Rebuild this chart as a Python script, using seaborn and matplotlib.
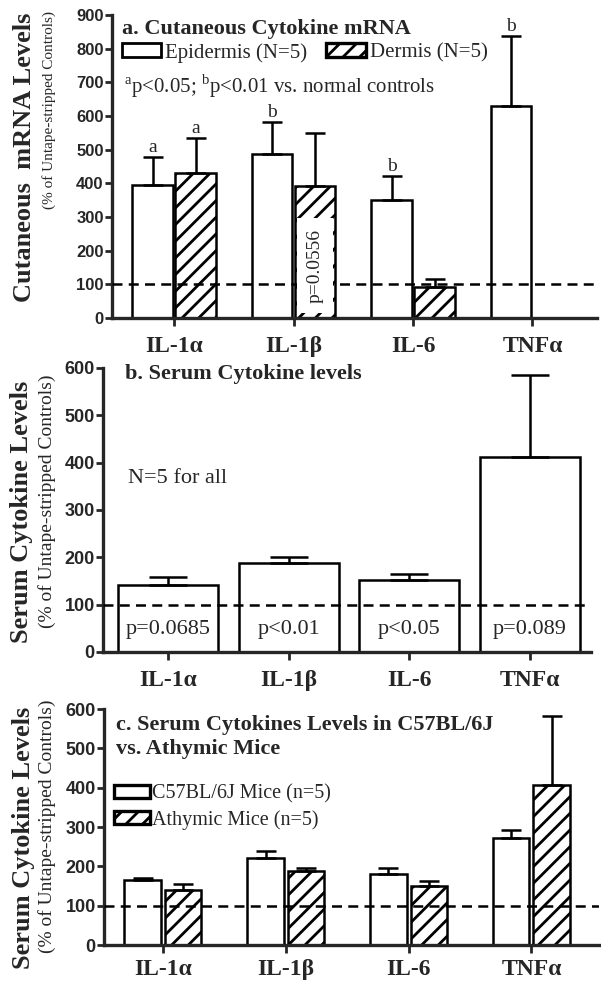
import numpy as np
import pandas as pd
import matplotlib
matplotlib.use('Agg')
import matplotlib.pyplot as plt
import seaborn as sns
from matplotlib.patches import Patch, Rectangle

# 데이터
cytokines = ['IL-1α', 'IL-1β', 'IL-6', 'TNFα']

# a. Cutaneous mRNA (% of controls)
epidermis_mean = [395, 487, 350, 630]
epidermis_err = [83, 96, 71, 207]
dermis_mean = [430, 391, 92, np.nan]
dermis_err = [104, 158, 24, np.nan]
epidermis_marks = ['a', 'b', 'b', 'b']
dermis_marks = ['a', '', '', '']

# b. Serum levels
serum_mean = [141, 189, 152, 412]
serum_err = [17, 11, 13, 174]
serum_p = ['p=0.0685', 'p<0.01', 'p<0.05', 'p=0.089']

# c. C57BL/6J vs athymic
c57_mean = [165, 221, 181, 273]
c57_err = [5, 17, 16, 20]
athymic_mean = [139, 188, 150, 408]
athymic_err = [16, 8, 12, 175]

sns.set_style('ticks')
plt.rcParams['font.family'] = ['Liberation Serif', 'DejaVu Serif']
plt.rcParams['mathtext.fontset'] = 'custom'
plt.rcParams['mathtext.rm'] = 'Liberation Serif'
plt.rcParams['hatch.linewidth'] = 2.0

SANS = 'Liberation Sans'
W, H = 601, 988


def make_axes(fig, left, right, top, bottom):
    return fig.add_axes([left / W, 1 - bottom / H, (right - left) / W, (bottom - top) / H])


def style_axes(ax, ymax, ystep, xlim, ysize=10, xsize=15, xpad=6):
    ax.set_ylim(0, ymax)
    ax.set_xlim(*xlim)
    ax.set_yticks(np.arange(0, ymax + 1, ystep))
    for s in ['top', 'right']:
        ax.spines[s].set_visible(False)
    for s in ['left', 'bottom']:
        ax.spines[s].set_linewidth(2.4)
    ax.tick_params(axis='y', length=5, width=2, labelsize=ysize, pad=1)
    ax.tick_params(axis='x', length=6, width=2, labelsize=xsize, pad=xpad)
    for lab in ax.get_yticklabels():
        lab.set_fontfamily(SANS)
        lab.set_fontweight('bold')
    for lab in ax.get_xticklabels():
        lab.set_fontweight('bold')
    ax.set_xlabel('')
    ax.set_ylabel('')
    ax.axhline(100, color='black', lw=1.8, ls=(0, (4, 2.5)), zorder=5)


def add_errors(ax, errs_by_container, capsize):
    for cont, errs in zip(ax.containers, errs_by_container):
        for p in cont.patches:
            h = p.get_height()
            if np.isnan(h) or h == 0:
                continue
            cx = p.get_x() + p.get_width() / 2
            i = int(round(cx))
            ax.errorbar(cx, h, yerr=[[0], [errs[i]]], fmt='none', ecolor='black',
                        elinewidth=1.8, capsize=capsize, capthick=1.8, zorder=3)


fig = plt.figure(figsize=(W / 100, H / 100), dpi=100)

# ---------- a ----------
ax = make_axes(fig, 112, 597, 15, 318)
df_a = pd.DataFrame({
    'cytokine': cytokines * 2,
    'group': ['Epidermis'] * 4 + ['Dermis'] * 4,
    'value': epidermis_mean + dermis_mean,
})
sns.barplot(data=df_a, x='cytokine', y='value', hue='group', order=cytokines,
            hue_order=['Epidermis', 'Dermis'], palette=['white', 'white'], saturation=1,
            edgecolor='black', linewidth=1.8, errorbar=None, width=0.72, gap=0.06,
            legend=False, ax=ax)
for p in ax.containers[1].patches:
    p.set_hatch('//')
add_errors(ax, [epidermis_err, dermis_err], capsize=7)
style_axes(ax, 900, 100, (-0.52, 3.54), ysize=12, xsize=17, xpad=7)

for cont, means, errs, marks in zip(ax.containers, [epidermis_mean, dermis_mean],
                                    [epidermis_err, dermis_err], [epidermis_marks, dermis_marks]):
    for p in cont.patches:
        cx = p.get_x() + p.get_width() / 2
        i = int(round(cx))
        if marks[i]:
            ax.text(cx, means[i] + errs[i] + 3, marks[i], ha='center', va='bottom', fontsize=14)

# p=0.0556 box inside the dermis IL-1b bar
pb = [p for p in ax.containers[1].patches if int(round(p.get_x() + p.get_width() / 2)) == 1][0]
ax.add_patch(Rectangle((pb.get_x() + 0.02, 15), pb.get_width() - 0.04, 283,
                       facecolor='white', edgecolor='none', zorder=5.5))
ax.text(pb.get_x() + pb.get_width() / 2, 155, 'p=0.0556', rotation=90, ha='center',
        va='center', fontsize=14, zorder=6)

ax.text(0.02, 0.955, 'a. Cutaneous Cytokine mRNA', transform=ax.transAxes, fontsize=16,
        fontweight='bold', va='center')
hand_a = [Patch(facecolor='white', edgecolor='black', lw=2, label='Epidermis (N=5)'),
          Patch(facecolor='white', edgecolor='black', lw=2.4, hatch='//', label='Dermis (N=5)')]
ax.legend(handles=hand_a, ncol=2, loc='center left', bbox_to_anchor=(0.02, 0.875),
          frameon=False, fontsize=15, handlelength=1.9, handleheight=0.65,
          handletextpad=0.2, columnspacing=0.9, borderpad=0, borderaxespad=0)
ax.text(0.025, 0.765, r'$^{\rm a}$p<0.05; $^{\rm b}$p<0.01 vs. normal controls',
        transform=ax.transAxes, fontsize=15, va='center')

fig.text(25 / W, 1 - 13 / H, 'Cutaneous  mRNA Levels', rotation=90, ha='center', va='top',
         fontsize=19, fontweight='bold')
fig.text(49 / W, 1 - 11 / H, '(% of Untape-stripped Controls)', rotation=90, ha='center',
         va='top', fontsize=11)

# ---------- b ----------
ax = make_axes(fig, 103, 591, 368, 652)
df_b = pd.DataFrame({'cytokine': cytokines, 'value': serum_mean})
sns.barplot(data=df_b, x='cytokine', y='value', order=cytokines, color='white',
            saturation=1, edgecolor='black', linewidth=1.8, errorbar=None, width=0.83, ax=ax)
add_errors(ax, [serum_err], capsize=14)
style_axes(ax, 600, 100, (-0.54, 3.51), ysize=13, xsize=17, xpad=7)
for i, t in enumerate(serum_p):
    ax.text(i, 48, t, ha='center', va='center', fontsize=16, zorder=6)
ax.text(-0.33, 367, 'N=5 for all', fontsize=16, va='center')
ax.text(0.045, 0.98, 'b. Serum Cytokine levels', transform=ax.transAxes, fontsize=16,
        fontweight='bold', va='center')
fig.text(22 / W, 1 - 512 / H, 'Serum Cytokine Levels', rotation=90, ha='center', va='center',
         fontsize=19, fontweight='bold')
fig.text(47 / W, 1 - 501 / H, '(% of Untape-stripped Controls)', rotation=90, ha='center',
         va='center', fontsize=14)

# ---------- c ----------
ax = make_axes(fig, 104, 599, 709, 945)
df_c = pd.DataFrame({
    'cytokine': cytokines * 2,
    'group': ['C57'] * 4 + ['Athymic'] * 4,
    'value': c57_mean + athymic_mean,
})
sns.barplot(data=df_c, x='cytokine', y='value', hue='group', order=cytokines,
            hue_order=['C57', 'Athymic'], palette=['white', 'white'], saturation=1,
            edgecolor='black', linewidth=1.8, errorbar=None, width=0.66, gap=0.1,
            legend=False, ax=ax)
for p in ax.containers[1].patches:
    p.set_hatch('//')
add_errors(ax, [c57_err, athymic_err], capsize=7)
style_axes(ax, 600, 100, (-0.48, 3.55), ysize=13, xsize=17, xpad=4)
ax.text(0.025, 0.975, 'c. Serum Cytokines Levels in C57BL/6J\nvs. Athymic Mice',
        transform=ax.transAxes, fontsize=16, fontweight='bold', va='top', linespacing=1.25)
hand_c = [Patch(facecolor='white', edgecolor='black', lw=2.4, label='C57BL/6J Mice (n=5)'),
          Patch(facecolor='white', edgecolor='black', lw=2.4, hatch='//', label='Athymic Mice (n=5)')]
ax.legend(handles=hand_c, ncol=1, loc='upper left', bbox_to_anchor=(0.02, 0.68),
          frameon=False, fontsize=14.5, handlelength=1.8, handleheight=0.65,
          handletextpad=0.1, labelspacing=0.3, borderpad=0, borderaxespad=0)
fig.text(24 / W, 1 - 838 / H, 'Serum Cytokine Levels', rotation=90, ha='center', va='center',
         fontsize=19, fontweight='bold')
fig.text(47 / W, 1 - 826 / H, '(% of Untape-stripped Controls)', rotation=90, ha='center',
         va='center', fontsize=14)

plt.savefig('out.png', dpi=100)
plt.close()
